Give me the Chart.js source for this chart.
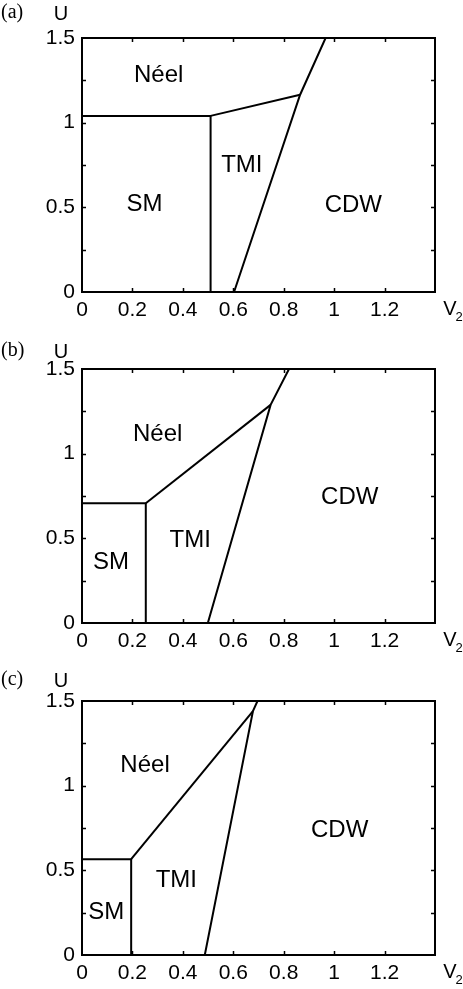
<!DOCTYPE html>
<html>
<head>
<meta charset="utf-8">
<script src="https://cdn.jsdelivr.net/npm/chart.js@4/dist/chart.umd.min.js"></script>
<style>
  body { margin: 0; background: #fff; }
  canvas { display: block; }
</style>
</head>
<body>
<canvas id="pa" width="463" height="330"></canvas>
<canvas id="pb" width="463" height="330"></canvas>
<canvas id="pc" width="463" height="329"></canvas>
<script>
// ticks
var xTickValues = [0, 0.2, 0.4, 0.6, 0.8, 1, 1.2, 1.4];
var xTickLabels = ["0", "0.2", "0.4", "0.6", "0.8", "1", "1.2", ""];
var yTickValues = [0, 0.25, 0.5, 0.75, 1, 1.25, 1.5];
var yTickLabels = ["0", "", "0.5", "", "1", "", "1.5"];

var panelNames = ["(a)", "(b)", "(c)"];
var regionNames = ["Néel", "SM", "TMI", "CDW"];

// panel (a) phase boundaries
var smX_a = [0, 0.51, 0.51];
var smU_a = [1.04, 1.04, 0];
var neelX_a = [0.51, 0.865];
var neelU_a = [1.04, 1.165];
var cdwX_a = [0.603, 0.865, 0.966];
var cdwU_a = [0, 1.165, 1.5];
var labelX_a = [0.304, 0.248, 0.634, 1.076];
var labelU_a = [1.28, 0.515, 0.75, 0.509];

// panel (b)
var smX_b = [0, 0.253, 0.253];
var smU_b = [0.707, 0.707, 0];
var neelX_b = [0.253, 0.748];
var neelU_b = [0.707, 1.288];
var cdwX_b = [0.499, 0.748, 0.821];
var cdwU_b = [0, 1.288, 1.5];
var labelX_b = [0.300, 0.115, 0.429, 1.062];
var labelU_b = [1.116, 0.358, 0.49, 0.742];

// panel (c)
var smX_c = [0, 0.195, 0.195];
var smU_c = [0.566, 0.566, 0];
var neelX_c = [0.195, 0.678];
var neelU_c = [0.566, 1.44];
var cdwX_c = [0.487, 0.678, 0.696];
var cdwU_c = [0, 1.44, 1.5];
var labelX_c = [0.250, 0.096, 0.374, 1.022];
var labelU_c = [1.118, 0.252, 0.438, 0.735];

function pts(xs, us) {
    return xs.map(function (x, i) { return { x: x, y: us[i] }; });
}

function lineSet(xs, us) {
    return {
        data: pts(xs, us),
        showLine: true,
        borderColor: "#000",
        borderWidth: 2,
        pointRadius: 0,
        fill: false,
        tension: 0
    };
}

// frame, inward ticks and all the text
var decorPlugin = {
    id: "decor",
    afterDraw: function (chart) {
        var o = chart.options.plugins.decor;
        var ctx = chart.ctx;
        var a = chart.chartArea;
        var xs = chart.scales.x, ys = chart.scales.y;
        ctx.save();
        ctx.strokeStyle = "#000";
        ctx.lineWidth = 2;
        ctx.strokeRect(a.left, a.top, a.right - a.left, a.bottom - a.top);
        ctx.lineWidth = 1.5;
        ctx.beginPath();
        xTickValues.forEach(function (v) {
            if (v <= 0 || v >= 1.4) return;
            var px = Math.round(xs.getPixelForValue(v)) + 0.5;
            ctx.moveTo(px, a.bottom); ctx.lineTo(px, a.bottom - 4);
            ctx.moveTo(px, a.top); ctx.lineTo(px, a.top + 4);
        });
        yTickValues.forEach(function (v) {
            if (v <= 0 || v >= 1.5) return;
            var py = Math.round(ys.getPixelForValue(v)) + 0.5;
            ctx.moveTo(a.left, py); ctx.lineTo(a.left + 4, py);
            ctx.moveTo(a.right, py); ctx.lineTo(a.right - 4, py);
        });
        ctx.stroke();

        ctx.fillStyle = "#000";
        ctx.textAlign = "center";
        ctx.textBaseline = "middle";
        ctx.font = "24px 'Liberation Sans', Arial, sans-serif";
        regionNames.forEach(function (name, i) {
            ctx.fillText(name, xs.getPixelForValue(o.labelX[i]), ys.getPixelForValue(o.labelU[i]));
        });

        ctx.textAlign = "left";
        ctx.font = "20px 'Liberation Serif', 'Times New Roman', serif";
        ctx.fillText(o.name, 1, o.nameY);
        ctx.textAlign = "center";
        ctx.font = "20px 'Liberation Sans', Arial, sans-serif";
        ctx.fillText("U", 61, o.nameY + 1);
        ctx.fillText("V", 450, a.bottom + 17);
        ctx.font = "13px 'Liberation Sans', Arial, sans-serif";
        ctx.fillText("2", 459, a.bottom + 25);
        ctx.restore();
    }
};

function makePanel(id, idx, sm, neel, cdw, lx, lu, top, bottom, nameY) {
    var canvas = document.getElementById(id);
    var h = canvas.height;
    new Chart(canvas.getContext("2d"), {
        type: "scatter",
        data: {
            datasets: [lineSet(sm[0], sm[1]), lineSet(neel[0], neel[1]), lineSet(cdw[0], cdw[1])]
        },
        options: {
            responsive: false,
            animation: false,
            layout: { padding: { left: 0, right: 28, top: top, bottom: 0 } },
            plugins: {
                legend: { display: false },
                tooltip: { enabled: false },
                decor: { name: panelNames[idx], nameY: nameY, labelX: lx, labelU: lu }
            },
            scales: {
                x: {
                    type: "linear",
                    min: 0,
                    max: 1.4,
                    grid: { display: false, drawTicks: false },
                    border: { display: false },
                    afterBuildTicks: function (s) {
                        s.ticks = xTickValues.map(function (v) { return { value: v }; });
                    },
                    afterFit: function (s) { s.height = h - bottom; },
                    ticks: {
                        autoSkip: false,
                        maxRotation: 0,
                        padding: 6,
                        color: "#000",
                        font: { family: "'Liberation Sans', Arial, sans-serif", size: 21 },
                        callback: function (v, i) { return xTickLabels[i]; }
                    }
                },
                y: {
                    type: "linear",
                    min: 0,
                    max: 1.5,
                    grid: { display: false, drawTicks: false },
                    border: { display: false },
                    afterBuildTicks: function (s) {
                        s.ticks = yTickValues.map(function (v) { return { value: v }; });
                    },
                    afterFit: function (s) { s.width = 82; },
                    ticks: {
                        autoSkip: false,
                        padding: 7,
                        color: "#000",
                        font: { family: "'Liberation Sans', Arial, sans-serif", size: 21 },
                        callback: function (v, i) { return yTickLabels[i]; }
                    }
                }
            }
        },
        plugins: [decorPlugin]
    });
}

makePanel("pa", 0, [smX_a, smU_a], [neelX_a, neelU_a], [cdwX_a, cdwU_a], labelX_a, labelU_a, 38, 292, 13);
makePanel("pb", 1, [smX_b, smU_b], [neelX_b, neelU_b], [cdwX_b, cdwU_b], labelX_b, labelU_b, 39, 293, 21);
makePanel("pc", 2, [smX_c, smU_c], [neelX_c, neelU_c], [cdwX_c, cdwU_c], labelX_c, labelU_c, 41, 295, 20);
</script>
</body>
</html>
